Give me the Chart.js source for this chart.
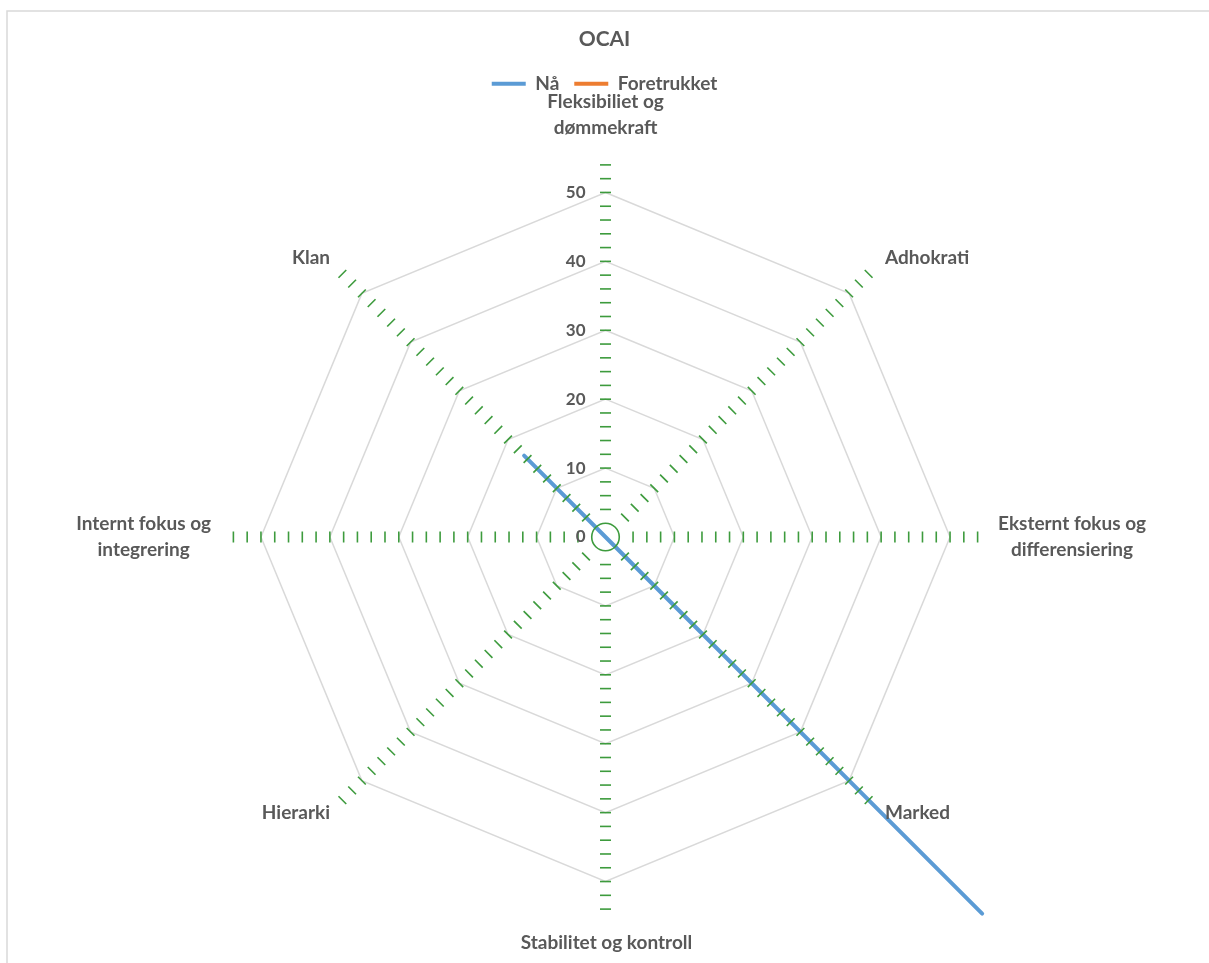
<!DOCTYPE html>
<html>
<head>
<meta charset="utf-8">
<title>OCAI</title>
<script src="https://cdn.jsdelivr.net/npm/chart.js@4.4.1/dist/chart.umd.min.js"></script>
<style>
  html, body { margin: 0; padding: 0; background: #ffffff; }
  canvas { display: block; }
</style>
</head>
<body>
<canvas id="ocai" width="1209" height="963"></canvas>
<script>
// Axis categories (multi-line names are arrays of lines)
const categories = [
  ["Fleksibiliet og", "dømmekraft"],
  "Adhokrati",
  ["Eksternt fokus og", "differensiering"],
  "Marked",
  "Stabilitet og kontroll",
  "Hierarki",
  ["Internt fokus og", "integrering"],
  "Klan"
];

// Series values, one per category
const naValues          = [0, 0, 0, 77.3, 0, 0, 0, 16.7];
const foretrukketValues = [0, 0, 0, 0, 0, 0, 0, 0];

// Radial axis
const tickValues = [0, 10, 20, 30, 40, 50];
const axisMax = 55;
const minorStep = 2;

// Styling
const TEXT_COLOR = '#595959';
const GRID_COLOR = '#d9d9d9';
const AXIS_COLOR = '#3d9b3d';
const FONT_FAMILY = 'Lato, "Open Sans", "Liberation Sans", sans-serif';
const LABEL_FONT = 'bold 19px ' + FONT_FAMILY;
const TICK_FONT = 'bold 17px ' + FONT_FAMILY;

// Geometry of the plot
const CENTER_X = 605.5;
const CENTER_Y = 537;
const RADIUS = 379;

// Offsets of the category names from the end of each spoke
const labelOffsets = [[0, -30], [11.5, -11], [13.5, 0], [11.5, 8], [1, 27], [-7.5, 8], [-15.5, 0], [-7.5, -11]];
const LABEL_LINE_HEIGHT = 26;

// White page with a thin frame on the top and left
const framePlugin = {
  id: 'frame',
  beforeDraw(chart) {
    const ctx = chart.ctx;
    ctx.save();
    ctx.fillStyle = '#ffffff';
    ctx.fillRect(0, 0, chart.width, chart.height);
    ctx.strokeStyle = GRID_COLOR;
    ctx.lineWidth = 1.5;
    ctx.beginPath();
    ctx.moveTo(7, chart.height);
    ctx.lineTo(7, 11);
    ctx.lineTo(chart.width, 11);
    ctx.stroke();
    ctx.restore();
  }
};

// Minor tick marks across every spoke, plus the small ring at the origin
const spokeTicksPlugin = {
  id: 'spokeTicks',
  afterDatasetsDraw(chart) {
    const scale = chart.scales.r;
    const ctx = chart.ctx;
    ctx.save();
    ctx.strokeStyle = AXIS_COLOR;
    ctx.lineWidth = 1.6;
    const half = 5.5;
    for (let i = 0; i < chart.data.labels.length; i++) {
      const a = scale.getIndexAngle(i) - Math.PI / 2;
      const px = -Math.sin(a), py = Math.cos(a);
      for (let v = 2 * minorStep; v < axisMax; v += minorStep) {
        const p = scale.getPointPosition(i, scale.getDistanceFromCenterForValue(v));
        ctx.beginPath();
        ctx.moveTo(p.x - px * half, p.y - py * half);
        ctx.lineTo(p.x + px * half, p.y + py * half);
        ctx.stroke();
      }
    }
    ctx.beginPath();
    ctx.arc(scale.xCenter, scale.yCenter, scale.getDistanceFromCenterForValue(minorStep), 0, Math.PI * 2);
    ctx.stroke();
    ctx.restore();
  },
  afterDraw(chart) {
    const scale = chart.scales.r;
    const ctx = chart.ctx;
    ctx.save();
    ctx.fillStyle = TEXT_COLOR;

    // value labels on the vertical spoke
    ctx.font = TICK_FONT;
    ctx.textAlign = 'right';
    ctx.textBaseline = 'middle';
    tickValues.forEach(v => {
      const d = scale.getDistanceFromCenterForValue(v);
      ctx.fillText(String(v), scale.xCenter - 20, scale.yCenter - d);
    });

    // category names around the chart
    ctx.font = LABEL_FONT;
    const end = scale.getDistanceFromCenterForValue(axisMax);
    chart.data.labels.forEach((label, i) => {
      const lines = Array.isArray(label) ? label : [label];
      const p = scale.getPointPosition(i, end);
      const ang = scale.getIndexAngle(i);
      const s = Math.sin(ang), c = Math.cos(ang);
      const x = p.x + labelOffsets[i][0];
      const y = p.y + labelOffsets[i][1];
      const w = Math.max(...lines.map(t => ctx.measureText(t).width));
      let cx = x;
      if (s > 0.1) cx = x + w / 2;
      else if (s < -0.1) cx = x - w / 2;
      let firstY;
      const n = lines.length;
      if (c > 0.9) firstY = y - (n - 1) * LABEL_LINE_HEIGHT;
      else if (c < -0.9) firstY = y;
      else firstY = y - (n - 1) * LABEL_LINE_HEIGHT / 2;
      ctx.textAlign = 'center';
      lines.forEach((t, k) => ctx.fillText(t, cx, firstY + k * LABEL_LINE_HEIGHT));
    });
    ctx.restore();
  }
};

new Chart(document.getElementById('ocai'), {
  type: 'radar',
  data: {
    labels: categories,
    datasets: [
      {
        label: 'Nå',
        data: naValues,
        borderColor: '#5b9bd5',
        backgroundColor: '#5b9bd5',
        borderWidth: 4,
        fill: false,
        pointRadius: 0,
        pointHoverRadius: 0,
        pointStyle: 'line',
        borderCapStyle: 'round',
        borderJoinStyle: 'round',
        clip: false
      },
      {
        label: 'Foretrukket',
        data: foretrukketValues,
        borderColor: '#ed7d31',
        backgroundColor: '#ed7d31',
        borderWidth: 4,
        fill: false,
        pointRadius: 0,
        pointHoverRadius: 0,
        pointStyle: 'line',
        clip: false
      }
    ]
  },
  options: {
    responsive: false,
    animation: false,
    events: [],
    layout: { padding: 0 },
    plugins: {
      title: {
        display: true,
        text: 'OCAI',
        color: TEXT_COLOR,
        font: { family: FONT_FAMILY, size: 21, weight: 'bold', lineHeight: 1.2 },
        padding: { top: 27, bottom: 7 }
      },
      legend: {
        display: true,
        position: 'top',
        labels: {
          color: TEXT_COLOR,
          font: { family: FONT_FAMILY, size: 19, weight: 'bold' },
          usePointStyle: true,
          pointStyle: 'line',
          pointStyleWidth: 34,
          padding: 15
        }
      },
      tooltip: { enabled: false }
    },
    scales: {
      r: {
        min: 0,
        max: axisMax,
        startAngle: 0,
        angleLines: { display: false },
        grid: {
          color: ctx => (tickValues.includes(ctx.tick.value) ? GRID_COLOR : 'rgba(0,0,0,0)'),
          lineWidth: 1.5
        },
        ticks: { stepSize: 10, display: false, showLabelBackdrop: false },
        pointLabels: { display: false },
        afterFit: scale => {
          scale.xCenter = CENTER_X;
          scale.yCenter = CENTER_Y;
          scale.drawingArea = RADIUS;
        }
      }
    }
  },
  plugins: [framePlugin, spokeTicksPlugin]
});
</script>
</body>
</html>
